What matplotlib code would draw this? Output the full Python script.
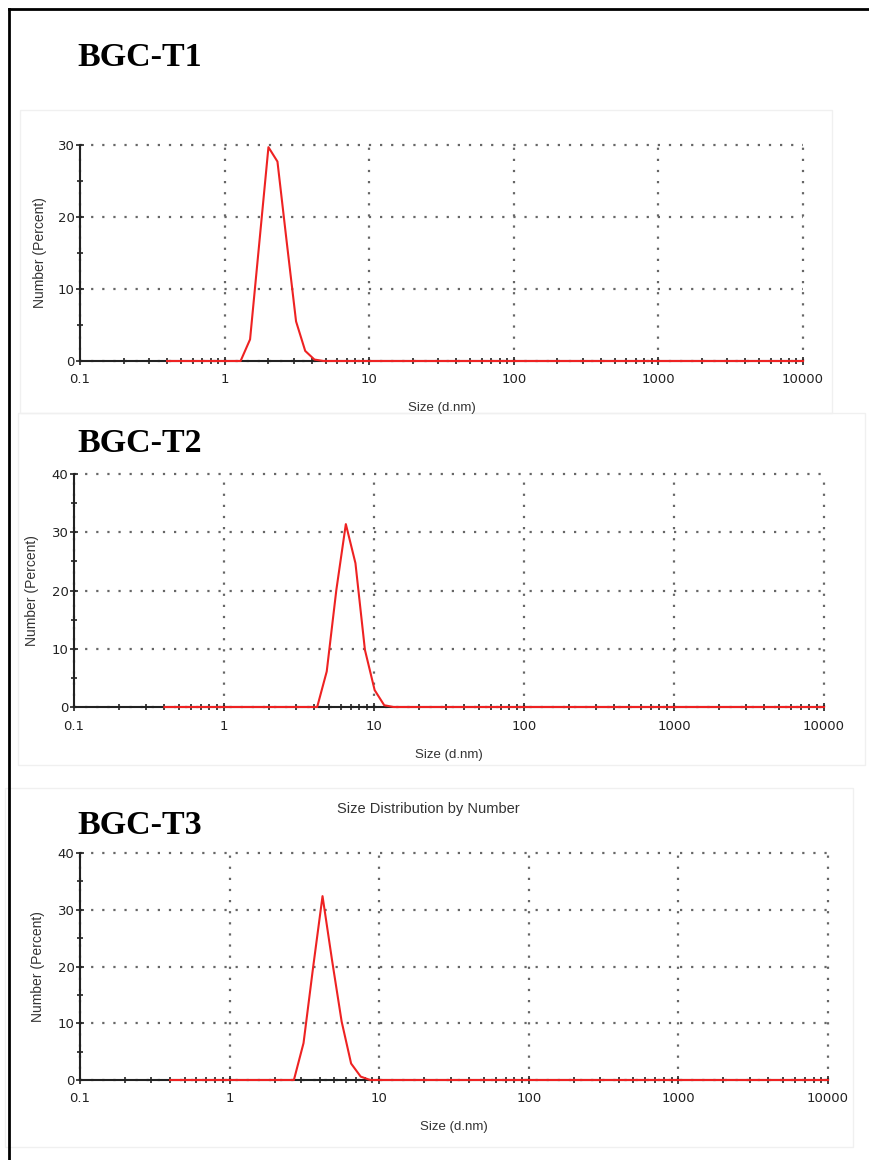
import matplotlib
matplotlib.use("Agg")
import matplotlib.pyplot as plt
from matplotlib.ticker import LogLocator, FixedLocator, NullFormatter, FixedFormatter
from matplotlib.patches import Rectangle
from matplotlib.lines import Line2D

# ---------------- data ----------------
titles = ["BGC-T1", "BGC-T2", "BGC-T3"]

t1_size = [0.4, 1.29, 1.50, 1.73, 2.01, 2.32, 2.69, 3.12, 3.61, 4.18, 4.84, 10000]
t1_number = [0, 0, 3.0, 16.0, 29.7, 27.7, 16.5, 5.5, 1.4, 0.2, 0, 0]

t2_size = [0.4, 4.18, 4.84, 5.61, 6.49, 7.52, 8.70, 10.1, 11.7, 13.5, 10000]
t2_number = [0, 0, 6.1, 20.1, 31.4, 24.7, 9.8, 2.9, 0.3, 0, 0]

t3_size = [0.4, 2.69, 3.12, 3.61, 4.18, 4.84, 5.61, 6.49, 7.52, 8.70, 10000]
t3_number = [0, 0, 6.5, 19.7, 32.4, 21.1, 10.3, 2.9, 0.6, 0, 0]

x_ticks = [0.1, 1, 10, 100, 1000, 10000]
x_ticklabels = ["0.1", "1", "10", "100", "1000", "10000"]
y_max = [30, 40, 40]

# ---------------- layout ----------------
W, H = 869, 1160
fig = plt.figure(figsize=(W / 100, H / 100), dpi=100)
fig.patch.set_facecolor("white")

def fx(px):
    return px / W

def fy(py):
    return 1 - py / H

# outer border
fig.add_artist(Line2D([fx(9), fx(869)], [fy(9), fy(9)], color="black", lw=2))
fig.add_artist(Line2D([fx(9), fx(9)], [fy(9), fy(1160)], color="black", lw=2))

# faint screenshot boxes
for (x0, y0, x1, y1) in [(20, 110, 832, 413), (18, 413, 865, 765), (5, 788, 853, 1147)]:
    fig.add_artist(Rectangle((fx(x0), fy(y1)), fx(x1) - fx(x0), fy(y0) - fy(y1),
                             fill=False, edgecolor="#f0f0f0", lw=1))

# axes pixel boxes: x at 0.1, x at 10000, y at 0, y at top
boxes = [(80, 803, 361, 145), (74, 824, 707, 474), (80, 828, 1080, 853)]
sizes = [t1_size, t2_size, t3_size]
numbers = [t1_number, t2_number, t3_number]
title_y = [57, 443, 825]
xlabel_y = [408, 755, 1127]
ylabel_x = [40, 32, 38]

for i in range(3):
    xl, xr, yb, yt = boxes[i]
    ax = fig.add_axes([fx(xl), fy(yb), fx(xr) - fx(xl), fy(yt) - fy(yb)])
    ax.set_xscale("log")
    ax.set_xlim(0.1, 10000)
    ax.set_ylim(0, y_max[i])
    ax.plot(sizes[i], numbers[i], color="#ee2222", lw=1.5, zorder=5, clip_on=False)

    for s in ["top", "right"]:
        ax.spines[s].set_visible(False)
    for s in ["left", "bottom"]:
        ax.spines[s].set_linewidth(1.5)
        ax.spines[s].set_color("#222222")

    ax.xaxis.set_major_locator(FixedLocator(x_ticks))
    ax.xaxis.set_major_formatter(FixedFormatter(x_ticklabels))
    ax.xaxis.set_minor_locator(LogLocator(base=10, subs=range(2, 10)))
    ax.xaxis.set_minor_formatter(NullFormatter())
    ax.yaxis.set_major_locator(FixedLocator(list(range(0, y_max[i] + 1, 10))))
    ax.yaxis.set_minor_locator(FixedLocator(list(range(5, y_max[i], 10))))

    ax.tick_params(axis="both", which="major", direction="inout", length=6, width=1.2,
                   color="#222222", labelsize=9.5, labelcolor="#222222")
    ax.tick_params(axis="both", which="minor", direction="inout", length=5, width=1.2,
                   color="#222222")
    ax.tick_params(axis="x", which="major", pad=6)
    ax.tick_params(axis="y", which="major", pad=1)

    ax.grid(True, which="major", color="#666666", linestyle=(0, (1, 4)), lw=1.6)
    for gl in ax.get_xgridlines() + ax.get_ygridlines():
        gl.set_clip_on(False)

    fig.text(fx((xl + xr) / 2), fy(xlabel_y[i]), "Size (d.nm)", ha="center", va="center",
             fontsize=9.5, family="Liberation Sans", color="#333333")
    fig.text(fx(ylabel_x[i]), fy((yb + yt) / 2), "Number (Percent)", ha="center", va="center",
             rotation=90, fontsize=10, family="Liberation Sans", color="#333333")

    fig.text(fx(77), fy(title_y[i]), titles[i], ha="left", va="center", fontsize=24.5,
             fontweight="bold", family="Liberation Serif", color="black")

fig.text(fx(428), fy(809), "Size Distribution by Number", ha="center", va="center",
         fontsize=10.5, family="Liberation Sans", color="#333333")

fig.savefig("out.png", dpi=100, facecolor="white")
